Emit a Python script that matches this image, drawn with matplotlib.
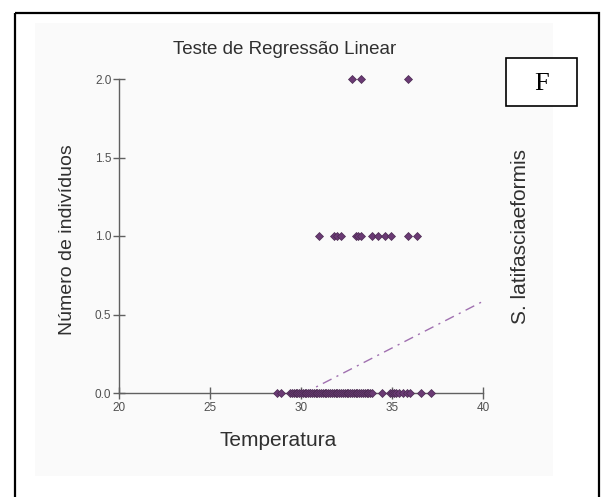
import numpy as np
import matplotlib
matplotlib.use("Agg")
from matplotlib import pyplot as plt
from matplotlib.patches import Rectangle

# values
temps_two = [32.8, 33.3, 35.9]
temps_one = [31.0, 31.8, 32.0, 32.2, 33.0, 33.15, 33.3, 33.9, 34.25, 34.6, 34.95, 35.9, 36.4]
temps_zero = [28.7, 28.9, 29.4, 29.5, 29.6, 29.7, 29.8, 29.9, 30.0, 30.1, 30.2,
              30.3, 30.4, 30.5, 30.6, 30.7, 30.8, 30.9, 31.0, 31.1, 31.2, 31.3,
              31.4, 31.5, 31.6, 31.7, 31.8, 31.9, 32.0, 32.1, 32.2, 32.3, 32.4,
              32.5, 32.6, 32.7, 32.8, 32.9, 33.0, 33.1, 33.2, 33.3, 33.4, 33.5,
              33.6, 33.7, 33.8, 33.9, 34.45, 34.9, 35.0, 35.1, 35.2, 35.4, 35.6,
              35.8, 36.0, 36.6, 37.15]
fit_slope = 0.0595
fit_intercept = -1.796
x_ticks = [20, 25, 30, 35, 40]
y_ticks = [0.0, 0.5, 1.0, 1.5, 2.0]

plt.rcParams['font.family'] = ['Liberation Sans', 'DejaVu Sans']

W, H = 608, 497
fig = plt.figure(figsize=(W / 100, H / 100), dpi=100)

def px(x, y):
    # pixel coords (top-left origin) -> figure fraction
    return x / W, 1 - y / H

# background axes: outer frame, light panel, F box
bg = fig.add_axes([0, 0, 1, 1], zorder=-1)
bg.set_xlim(0, W)
bg.set_ylim(H, 0)
bg.axis('off')
bg.add_patch(Rectangle((15, 13), 584, 500, fill=False, edgecolor='black', linewidth=1.6))
bg.add_patch(Rectangle((35, 23), 518, 453, facecolor='#fafafa', edgecolor='none'))
bg.add_patch(Rectangle((506, 58), 71, 48, facecolor='white', edgecolor='black', linewidth=1.2))
bg.text(542, 84, 'F', ha='center', va='center', fontsize=19,
        family=['Liberation Serif', 'DejaVu Serif'], color='black')

# texts
bg.text(285, 50, 'Teste de Regressão Linear', ha='center', va='center',
        fontsize=13.5, color='#303030')
bg.text(68, 240, 'Número de indivíduos', ha='center', va='center', rotation=90,
        fontsize=14, color='#303030')
bg.text(278, 440, 'Temperatura', ha='center', va='center', fontsize=15, color='#303030')
bg.text(521, 237, 'S. latifasciaeformis', ha='center', va='center', rotation=90,
        fontsize=15, color='#303030')

# axes area
ax_l, ax_b = px(119, 393)
ax_r, ax_t = px(483, 79)
ax = fig.add_axes([ax_l, ax_b, ax_r - ax_l, ax_t - ax_b])
ax.patch.set_visible(False)

mcol = '#6a3a74'
for temps, val in [(temps_zero, 0.0), (temps_one, 1.0), (temps_two, 2.0)]:
    ax.plot(temps, [val] * len(temps), linestyle='none', marker='D', markersize=4.2,
            markerfacecolor=mcol, markeredgecolor='#4a2a50', markeredgewidth=0.5,
            clip_on=False, zorder=3)

xs = np.array([20.0, 40.0])
ax.plot(xs, fit_intercept + fit_slope * xs, color='#a070b0', linewidth=1.0,
        dashes=(7, 4, 1.5, 4), zorder=2)

ax.set_xlim(20, 40)
ax.set_ylim(0, 2)
ax.set_xticks(x_ticks)
ax.set_yticks(y_ticks)
ax.set_yticklabels([f"{v:.1f}" for v in y_ticks])
for s in ['top', 'right']:
    ax.spines[s].set_visible(False)
for s in ['left', 'bottom']:
    ax.spines[s].set_color('#606060')
    ax.spines[s].set_linewidth(1.0)
ax.tick_params(direction='inout', length=9, width=1.0, color='#606060',
               labelcolor='#505050', labelsize=8.5)
ax.tick_params(axis='x', pad=2)
ax.tick_params(axis='y', pad=1)

fig.savefig('out.png', dpi=100)
